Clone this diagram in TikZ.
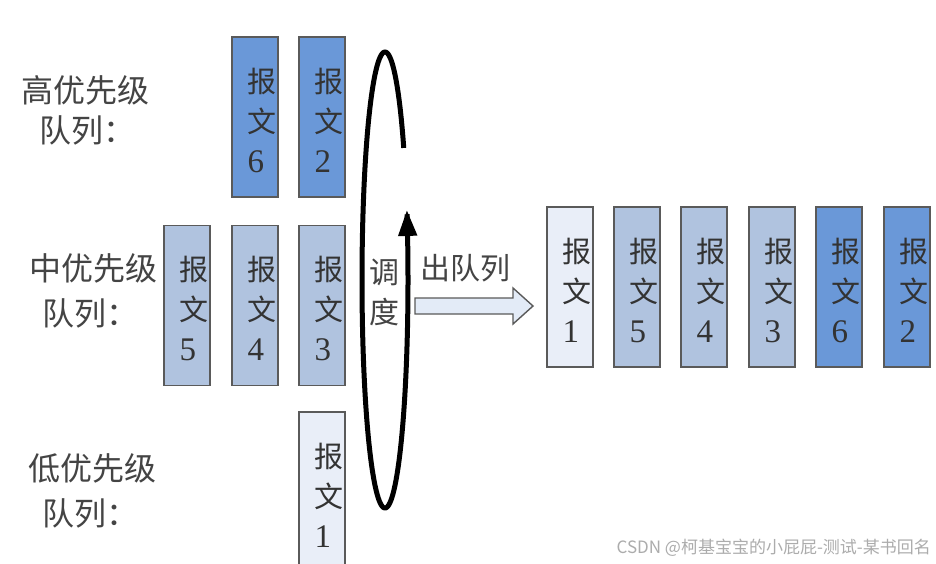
\documentclass[tikz,border=0pt]{standalone}
\usepackage{fontspec}
\setmainfont{Liberation Serif}
\newfontfamily\cjk{Noto Sans CJK SC}
\usetikzlibrary{arrows.meta}
\definecolor{hiblue}{HTML}{6A98D8}
\definecolor{mdblue}{HTML}{B0C3DF}
\definecolor{loblue}{HTML}{E9EEF8}
\definecolor{edge}{HTML}{5A5A5A}
\definecolor{txt}{HTML}{333333}
\definecolor{lbl}{HTML}{444444}
\definecolor{arrowfill}{HTML}{E3EBF7}
\tikzset{
  msgbox/.style={draw=edge, line width=1.6pt, minimum width=46pt, minimum height=160pt, inner sep=0pt},
  msgtext/.style={text=txt, align=left, font=\fontsize{29}{40}\selectfont, inner sep=0pt},
  qlabel/.style={text=lbl, anchor=west, font=\cjk\fontsize{32}{34}\selectfont, inner sep=0pt},
  sidetext/.style={text=lbl, font=\cjk\fontsize{30}{40}\selectfont, inner sep=0pt, align=center},
}
\newcommand{\msg}[1]{{\cjk 报}\\{\cjk 文}\\{\fontsize{33}{40}\selectfont #1}}
\begin{document}
\begin{tikzpicture}[x=1pt,y=-1pt]
\useasboundingbox (0,0) rectangle (936,564);
\fill[white] (0,0) rectangle (936,564);
% queue labels
\node[qlabel] (hl1) at (21,90) {高优先级};
\node[qlabel] (hl2) at (39,130) {队列：};
\node[qlabel] (ml1) at (29,268) {中优先级};
\node[qlabel] (ml2) at (42,313) {队列：};
\node[qlabel] (ll1) at (28,468) {低优先级};
\node[qlabel] (ll2) at (42,513) {队列：};
% high priority
\node[msgbox, fill=hiblue] (hi6) at (255,117) {};
\node[msgbox, fill=hiblue] (hi2) at (322,117) {};
% medium
\node[msgbox, fill=mdblue] (md5) at (187,305.5) {};
\node[msgbox, fill=mdblue] (md4) at (255,305.5) {};
\node[msgbox, fill=mdblue] (md3) at (322,305.5) {};
% low
\node[msgbox, fill=loblue] (lo1) at (322,492) {};
% output row
\node[msgbox, fill=loblue] (o1) at (570,287) {};
\node[msgbox, fill=mdblue] (o5) at (637,287) {};
\node[msgbox, fill=mdblue] (o4) at (704,287) {};
\node[msgbox, fill=mdblue] (o3) at (772,287) {};
\node[msgbox, fill=hiblue] (o6) at (839,287) {};
\node[msgbox, fill=hiblue] (o2) at (907,287) {};
% texts
\foreach \b/\n in {hi6/6,hi2/2,md5/5,md4/4,md3/3,lo1/1,o1/1,o5/5,o4/4,o3/3,o6/6,o2/2}{
  \node[msgtext] (\b t) at ([xshift=7pt,yshift=-3pt]\b.center) {\msg{\n}};
}
% scheduling loop
\draw[line width=5pt, -{Triangle[length=26pt,width=18pt]}]
  plot[domain=35.4:377.9, samples=240, smooth] ({385+23*cos(\x)},{280-228*sin(\x)});
\node[sidetext] (sched) at (384,292) {调\\度};
% dequeue
\node[sidetext, anchor=west] (deq) at (420,268) {出队列};
\coordinate (a0) at (415,298);
\draw[draw=edge, fill=arrowfill, line width=1.4pt]
  (a0) -- (513,298) -- (513,288) -- (533,306) -- (513,324) -- (513,314) -- (415,314) -- cycle;
% watermark
\node[text=gray!65, anchor=east, font=\cjk\fontsize{17}{18}\selectfont, inner sep=0pt] (wm) at (931,548) {CSDN @柯基宝宝的小屁屁-测试-某书回名};
\end{tikzpicture}
\end{document}
